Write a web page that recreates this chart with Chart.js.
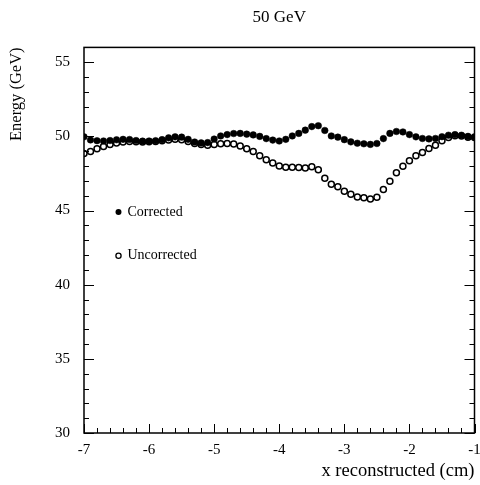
<!DOCTYPE html>
<html>
<head>
<meta charset="utf-8">
<script src="https://cdn.jsdelivr.net/npm/chart.js@4.4.1/dist/chart.umd.min.js"></script>
<style>
  html, body { margin: 0; padding: 0; background: #fff; }
  #wrap { width: 480px; height: 485px; }
</style>
</head>
<body>
<div id="wrap"><canvas id="energyChart" width="480" height="485"></canvas></div>
<script>
// beam position bins (cm)
var xPos = [-7.0, -6.9, -6.8, -6.7, -6.6, -6.5, -6.4, -6.3, -6.2, -6.1,
            -6.0, -5.9, -5.8, -5.7, -5.6, -5.5, -5.4, -5.3, -5.2, -5.1,
            -5.0, -4.9, -4.8, -4.7, -4.6, -4.5, -4.4, -4.3, -4.2, -4.1,
            -4.0, -3.9, -3.8, -3.7, -3.6, -3.5, -3.4, -3.3, -3.2, -3.1,
            -3.0, -2.9, -2.8, -2.7, -2.6, -2.5, -2.4, -2.3, -2.2, -2.1,
            -2.0, -1.9, -1.8, -1.7, -1.6, -1.5, -1.4, -1.3, -1.2, -1.1, -1.0];

var corrected = [49.97, 49.76, 49.71, 49.69, 49.72, 49.77, 49.80, 49.79, 49.72, 49.68,
                 49.69, 49.71, 49.78, 49.90, 49.97, 49.95, 49.80, 49.62, 49.56, 49.58,
                 49.82, 50.03, 50.12, 50.19, 50.20, 50.15, 50.10, 50.00, 49.85, 49.75,
                 49.69, 49.80, 50.03, 50.20, 50.42, 50.66, 50.72, 50.40, 50.03, 49.95,
                 49.78, 49.63, 49.54, 49.50, 49.46, 49.52, 49.85, 50.20, 50.33, 50.30,
                 50.12, 49.97, 49.86, 49.83, 49.86, 49.98, 50.08, 50.12, 50.08, 50.00, 49.97];

var uncorrected = [48.85, 48.98, 49.17, 49.32, 49.45, 49.55, 49.62, 49.66, 49.64, 49.62,
                   49.64, 49.66, 49.70, 49.76, 49.80, 49.78, 49.66, 49.52, 49.45, 49.40,
                   49.46, 49.50, 49.52, 49.48, 49.35, 49.16, 48.98, 48.70, 48.42, 48.20,
                   48.00, 47.92, 47.92, 47.90, 47.87, 47.95, 47.75, 47.18, 46.78, 46.60,
                   46.30, 46.10, 45.92, 45.86, 45.78, 45.90, 46.42, 46.98, 47.55, 47.98,
                   48.35, 48.70, 48.92, 49.18, 49.40, 49.70, 49.92, 50.05, 50.02, 49.95, 49.92];

var xTicks = [-7, -6, -5, -4, -3, -2, -1];
var yTicks = [30, 35, 40, 45, 50, 55];
var seriesNames = ['Corrected', 'Uncorrected'];

var serif = 'Liberation Serif, Times New Roman, serif';

function toPoints(ys) {
    return ys.map(function (v, i) { return { x: xPos[i], y: v }; });
}

// frame, inward ticks and the in-plot legend
var framePlugin = {
    id: 'frame',
    afterDraw: function (chart) {
        var ctx = chart.ctx;
        var a = chart.chartArea;
        var xs = chart.scales.x, ys = chart.scales.y;
        ctx.save();
        ctx.strokeStyle = '#000';
        ctx.lineWidth = 1.5;
        ctx.strokeRect(a.left, a.top, a.right - a.left, a.bottom - a.top);

        ctx.lineWidth = 1;
        ctx.beginPath();
        // x ticks every 0.2, major every 1
        for (var k = 0; k <= 30; k++) {
            var xv = -7 + k * 0.2;
            var px = Math.round(xs.getPixelForValue(xv)) + 0.5;
            var len = (k % 5 === 0) ? 9 : 5;
            ctx.moveTo(px, a.bottom);
            ctx.lineTo(px, a.bottom - len);
        }
        // y ticks every 1, major every 5
        for (var v = 30; v <= 56; v++) {
            var py = Math.round(ys.getPixelForValue(v)) + 0.5;
            var l2 = (v % 5 === 0) ? 10 : 5;
            ctx.moveTo(a.left, py);
            ctx.lineTo(a.left + l2, py);
            ctx.moveTo(a.right, py);
            ctx.lineTo(a.right - l2, py);
        }
        ctx.stroke();

        // legend
        var rows = [{ x: -6.47, y: 44.9 }, { x: -6.47, y: 41.95 }];
        ctx.font = '14px ' + serif;
        ctx.textBaseline = 'middle';
        ctx.fillStyle = '#000';
        rows.forEach(function (r, i) {
            var mx = xs.getPixelForValue(r.x);
            var my = ys.getPixelForValue(r.y);
            ctx.beginPath();
            ctx.arc(mx, my, i === 0 ? 3 : 2.6, 0, Math.PI * 2);
            if (i === 0) {
                ctx.fill();
            } else {
                ctx.lineWidth = 1.3;
                ctx.stroke();
            }
            ctx.fillText(seriesNames[i], mx + 9, my);
        });
        ctx.restore();
    }
};

var ctx1 = document.getElementById('energyChart').getContext('2d');
var energyChart = new Chart(ctx1, {
    type: 'scatter',
    data: {
        datasets: [{
            label: seriesNames[0],
            data: toPoints(corrected),
            pointRadius: 3.3,
            pointBackgroundColor: '#000',
            pointBorderColor: '#000',
            pointBorderWidth: 0.5
        }, {
            label: seriesNames[1],
            data: toPoints(uncorrected),
            pointRadius: 3,
            pointBackgroundColor: '#fff',
            pointBorderColor: '#000',
            pointBorderWidth: 1.5
        }]
    },
    options: {
        responsive: false,
        animation: false,
        layout: { padding: { left: 0, right: 4, top: 0, bottom: 0 } },
        plugins: {
            legend: { display: false },
            tooltip: { enabled: false },
            title: {
                display: true,
                fullSize: false,
                text: '50 GeV',
                color: '#000',
                font: { family: serif, size: 17, weight: 'normal' },
                padding: { top: 7, bottom: 20 }
            }
        },
        scales: {
            x: {
                type: 'linear',
                min: -7,
                max: -1,
                afterBuildTicks: function (s) { s.ticks = xTicks.map(function (v) { return { value: v }; }); },
                afterFit: function (s) { s.height = 52; s.paddingRight = 0; },
                grid: { display: false, drawTicks: false },
                border: { display: false },
                ticks: {
                    color: '#000',
                    padding: 8,
                    maxRotation: 0,
                    font: { family: serif, size: 15 }
                },
                title: {
                    display: true,
                    text: 'x reconstructed (cm)',
                    align: 'end',
                    color: '#000',
                    font: { family: serif, size: 18.5 },
                    padding: { top: 0, bottom: 3 }
                }
            },
            y: {
                type: 'linear',
                min: 30,
                max: 56,
                afterBuildTicks: function (s) { s.ticks = yTicks.map(function (v) { return { value: v }; }); },
                afterFit: function (s) { s.width = 84; },
                grid: { display: false, drawTicks: false },
                border: { display: false },
                ticks: {
                    color: '#000',
                    padding: 14,
                    font: { family: serif, size: 15 }
                },
                title: {
                    display: true,
                    text: 'Energy (GeV)',
                    align: 'end',
                    color: '#000',
                    font: { family: serif, size: 16.5 },
                    padding: { top: 7, bottom: 0 }
                }
            }
        }
    },
    plugins: [framePlugin]
});
</script>
</body>
</html>
